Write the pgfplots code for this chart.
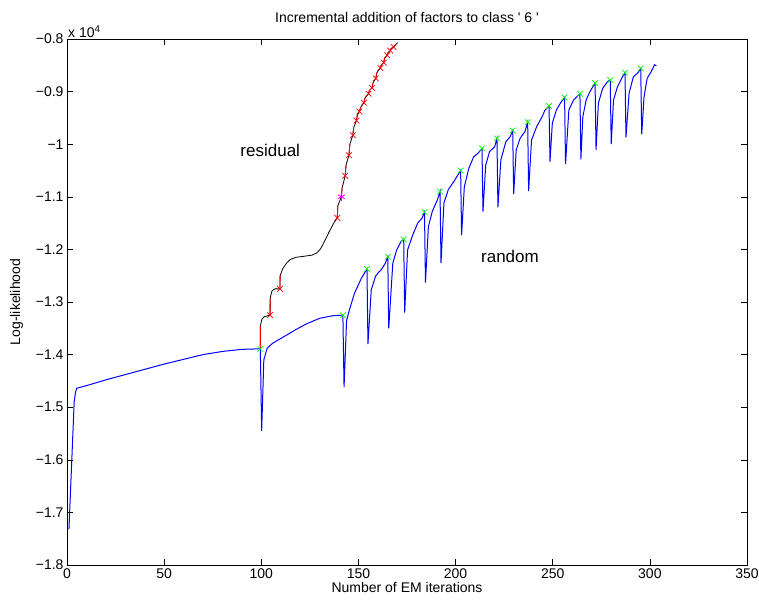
\documentclass[border=0pt]{standalone}
\usepackage{fontspec}
\setmainfont{Liberation Sans}
\usepackage{pgfplots}
\pgfplotsset{compat=1.18}

\definecolor{mblue}{rgb}{0,0,1}
\definecolor{mred}{rgb}{1,0,0}
\definecolor{mgreen}{rgb}{0,1,0}
\definecolor{mmag}{rgb}{1,0,1}

\begin{document}
\begin{tikzpicture}
\begin{axis}[
    scale only axis,
    width=680pt,
    height=526pt,
    xmin=0, xmax=350,
    ymin=-1.8, ymax=-0.8,
    xtick={0,50,100,150,200,250,300,350},
    ytick={-1.8,-1.7,-1.6,-1.5,-1.4,-1.3,-1.2,-1.1,-1,-0.9,-0.8},
    yticklabels={−1.8,−1.7,−1.6,−1.5,−1.4,−1.3,−1.2,−1.1,−1,−0.9,−0.8},
    /pgf/number format/assume math mode=true,
    tick align=inside,
    major tick length=6pt,
    tick style={black, line width=0.6pt},
    axis line style={line width=0.8pt},
    tick label style={font=\fontsize{14}{16}\selectfont},
    label style={font=\fontsize{14}{16}\selectfont},
    title style={font=\fontsize{14}{16}\selectfont, yshift=7pt},
    title={Incremental addition of factors to class \textquotesingle\ 6 \textquotesingle},
    xlabel={Number of EM iterations},
    xlabel style={yshift=3pt},
    ylabel={Log-likelihood},
    ylabel style={yshift=6pt},
    unbounded coords=jump,
    after end axis/.code={
        \node[anchor=south west, font=\fontsize{14}{16}\selectfont, inner sep=1pt]
            at (rel axis cs:0,1) {x 10\textsuperscript{4}};
    },
]

% random: blue EM trace
\addplot[mblue, line width=1pt] coordinates {
    (1,-1.732) (3.7,-1.490) (4.3,-1.473) (5,-1.464) (10,-1.459) (20,-1.448)
    (30,-1.438) (40,-1.428) (50,-1.418) (60,-1.409) (70,-1.400) (80,-1.394)
    (90,-1.390) (99.5,-1.389)
    (100.2,-1.545) (101.3,-1.410) (103,-1.388) (106,-1.378) (113,-1.363)
    (118,-1.352) (123,-1.342) (130,-1.331) (137,-1.326) (142,-1.325)
    (142.6,-1.462) (143.9,-1.335) (145.6,-1.312) (148,-1.283) (151.5,-1.255) (154.4,-1.237)
    (154.9,-1.380) (156.6,-1.277) (158.8,-1.251) (160.5,-1.243) (161.7,-1.239) (163.9,-1.226) (165.1,-1.214)
    (165.6,-1.350) (167.7,-1.226) (169.7,-1.201) (171.9,-1.185) (173.3,-1.181)
    (173.8,-1.320) (175.3,-1.201) (177.9,-1.173) (180.5,-1.150) (182.7,-1.141) (184,-1.129)
    (184.5,-1.263) (186,-1.157) (188,-1.128) (190.6,-1.106) (192,-1.090)
    (192.5,-1.226) (194,-1.112) (196.3,-1.086) (199.1,-1.071) (202.6,-1.050)
    (203.1,-1.173) (204.5,-1.081) (206.8,-1.046) (209.3,-1.024) (211.6,-1.017) (213.6,-1.008)
    (214.1,-1.128) (215.5,-1.040) (217.5,-1.014) (220.1,-1.005) (221.3,-0.989)
    (221.8,-1.120) (223.3,-1.030) (225.9,-0.995) (228.1,-0.986) (229.4,-0.974)
    (229.9,-1.095) (231.2,-1.011) (233.2,-0.989) (235.7,-0.976) (237.1,-0.958)
    (237.6,-1.089) (239.1,-0.992) (241.7,-0.967) (244.5,-0.948) (245.9,-0.936) (248.1,-0.927)
    (248.6,-1.033) (249.8,-0.960) (251.9,-0.935) (254.1,-0.921) (256.1,-0.911)
    (256.6,-1.038) (258.3,-0.935) (260.7,-0.916) (264.0,-0.904)
    (264.5,-1.029) (265.5,-0.948) (267.2,-0.916) (268.9,-0.902) (270.6,-0.891) (271.8,-0.884)
    (272.3,-1.011) (273.5,-0.922) (275.7,-0.894) (278.2,-0.881) (279.6,-0.878)
    (280.1,-1.000) (281.3,-0.916) (283.3,-0.891) (285.9,-0.872) (287.2,-0.864)
    (287.7,-0.987) (289.3,-0.903) (291.5,-0.872) (293.9,-0.864) (295.3,-0.856)
    (295.8,-0.981) (297,-0.910) (298.6,-0.875) (300.7,-0.862) (302.4,-0.849) (303.4,-0.851)
};

% residual: black EM trace
\addplot[black, line width=0.8pt] coordinates {
    (99.5,-1.389) (99.5,-1.346) (100.3,-1.333) (101.5,-1.328) (104.5,-1.325)
    (104.6,-1.292) (105.5,-1.279) (107,-1.275) (109.6,-1.275)
    (109.7,-1.250) (111,-1.237) (113,-1.226) (115,-1.219) (118,-1.215) (122,-1.213)
    (126,-1.211) (128.5,-1.207) (130.5,-1.199) (132.5,-1.185) (135,-1.166) (137,-1.152) (139.1,-1.140)
    (139.4,-1.117) (141.2,-1.100) (141.6,-1.083) (143.2,-1.060) (143.6,-1.040) (145.1,-1.021)
    (145.6,-1.000) (147.1,-0.983) (147.6,-0.968) (149,-0.955) (149.4,-0.945) (150.5,-0.938)
    (151.2,-0.930) (152.8,-0.921) (153.4,-0.912) (155.2,-0.904) (155.6,-0.898) (157,-0.893)
    (157.4,-0.884) (158.9,-0.875) (159.5,-0.864) (161.3,-0.855) (161.7,-0.850) (163,-0.845)
    (163.4,-0.837) (164.8,-0.831) (165.2,-0.826) (166.4,-0.822) (166.8,-0.818) (168.1,-0.815)
    (170.2,-0.807)
};

% residual: jumps after each added factor
\addplot[mred, line width=0.9pt] coordinates {
    (99.5,-1.389) (99.5,-1.346) (nan,nan)
    (104.5,-1.325) (104.6,-1.292) (nan,nan)
    (109.6,-1.275) (109.7,-1.250) (nan,nan)
    (139.1,-1.140) (139.4,-1.117) (nan,nan)
    (141.2,-1.100) (141.6,-1.083) (nan,nan)
    (143.2,-1.060) (143.6,-1.040) (nan,nan)
    (145.1,-1.021) (145.6,-1.000) (nan,nan)
    (147.1,-0.983) (147.6,-0.968) (nan,nan)
    (149,-0.955) (149.4,-0.945) (nan,nan)
    (150.5,-0.938) (151.2,-0.930) (nan,nan)
    (152.8,-0.921) (153.4,-0.912) (nan,nan)
    (155.2,-0.904) (155.6,-0.898) (nan,nan)
    (157,-0.893) (157.4,-0.884) (nan,nan)
    (158.9,-0.875) (159.5,-0.864) (nan,nan)
    (161.3,-0.855) (161.7,-0.850) (nan,nan)
    (163,-0.845) (163.4,-0.837) (nan,nan)
    (164.8,-0.831) (165.2,-0.826) (nan,nan)
    (166.4,-0.822) (166.8,-0.818)
};

% residual: markers
\addplot[only marks, mark=x, mark size=4pt, mred, line width=0.7pt] coordinates {
    (104.5,-1.325) (109.6,-1.275) (139.1,-1.140) (143.2,-1.060) (145.1,-1.021)
    (147.1,-0.983) (149,-0.955) (150.5,-0.938) (152.8,-0.921) (155.2,-0.904)
    (157,-0.893) (158.9,-0.875) (161.3,-0.855) (163,-0.845) (164.8,-0.831)
    (166.4,-0.822) (168.1,-0.815)
};
\addplot[only marks, mark=asterisk, mark size=4pt, mmag, line width=0.9pt] coordinates {
    (141.2,-1.100)
};

% random: markers
\addplot[only marks, mark=x, mark size=4pt, mgreen, line width=0.7pt] coordinates {
    (99.5,-1.389) (142,-1.325) (154.4,-1.237) (165.1,-1.214) (173.3,-1.181)
    (184,-1.129) (192,-1.090) (202.6,-1.050) (213.6,-1.008) (221.3,-0.989)
    (229.4,-0.974) (237.1,-0.958) (248.1,-0.927) (256.1,-0.911) (264,-0.904)
    (271.8,-0.884) (279.6,-0.878) (287.2,-0.864) (295.3,-0.856)
};

\node[font=\fontsize{17}{19}\selectfont] at (axis cs:104.6,-1.011) {residual};
\node[font=\fontsize{17}{19}\selectfont] at (axis cs:228,-1.214) {random};
\end{axis}
\pgfresetboundingbox
\path ([shift={(-67pt,-41pt)}]current axis.south west)
    rectangle ([shift={(12pt,39pt)}]current axis.north east);
\end{tikzpicture}
\end{document}
